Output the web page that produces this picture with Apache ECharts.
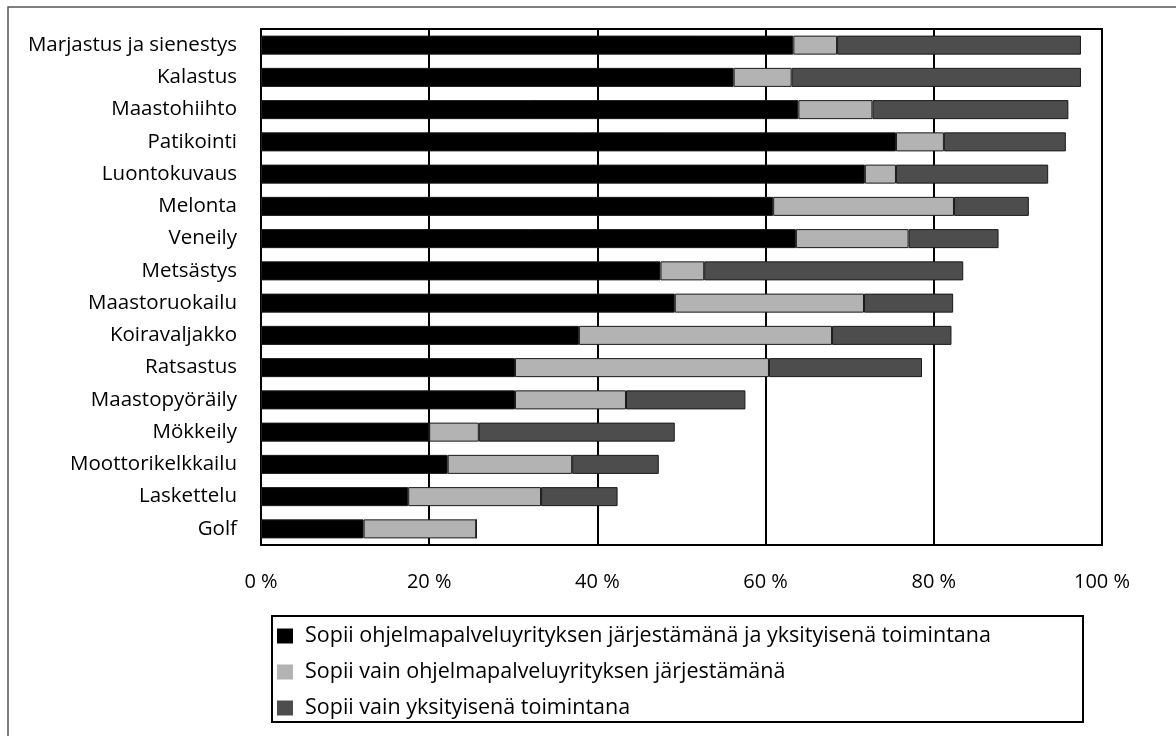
<!DOCTYPE html>
<html>
<head>
<meta charset="utf-8">
<script src="https://cdn.jsdelivr.net/npm/echarts@6/dist/echarts.min.js"></script>
<style>
html,body{margin:0;padding:0;background:#fff;}
#chart{width:1176px;height:736px;}
</style>
</head>
<body>
<div id="chart"></div>
<script>
const categories = [
  "Marjastus ja sienestys","Kalastus","Maastohiihto","Patikointi","Luontokuvaus",
  "Melonta","Veneily","Metsästys","Maastoruokailu","Koiravaljakko","Ratsastus",
  "Maastopyöräily","Mökkeily","Moottorikelkkailu","Laskettelu","Golf"
];
const seriesNames = [
  "Sopii ohjelmapalveluyrityksen järjestämänä ja yksityisenä toimintana",
  "Sopii vain ohjelmapalveluyrityksen järjestämänä",
  "Sopii vain yksityisenä toimintana"
];
const bothValues    = [63.3,56.2,63.9,75.5,71.8,60.9,63.6,47.5,49.2,37.8,30.2,30.2,20.0,22.2,17.5,12.2];
const companyValues = [5.2,6.9,8.8,5.7,3.7,21.5,13.4,5.2,22.5,30.1,30.2,13.2,5.9,14.8,15.8,13.4];
const privateValues = [29.0,34.4,23.3,14.5,18.1,8.9,10.7,30.8,10.6,14.2,18.2,14.2,23.3,10.3,9.1,0];
const tickValues = [0,20,40,60,80,100];

const FONT = "'Open Sans', 'Noto Sans', sans-serif";
const colors = ["#000000","#b3b3b3","#4d4d4d"];
const allValues = [bothValues, companyValues, privateValues];

const chart = echarts.init(document.getElementById('chart'));
chart.setOption({
  animation: false,
  backgroundColor: '#ffffff',
  textStyle: { fontFamily: FONT, color: '#000' },
  graphic: [
    { type: 'rect', shape: { x: 8, y: 7, width: 1300, height: 900 }, style: { fill: 'none', stroke: '#555', lineWidth: 1.5 }, z: -10 },
    { type: 'rect', shape: { x: 272, y: 616, width: 811, height: 106 }, style: { fill: 'none', stroke: '#000', lineWidth: 2 }, z: 10 }
  ],
  grid: {
    left: 261, right: 74, top: 29, bottom: 191,
    containLabel: false, outerBoundsMode: 'none',
    show: true, borderColor: '#000', borderWidth: 2, backgroundColor: 'transparent'
  },
  legend: {
    orient: 'vertical', left: 277, top: 625,
    itemWidth: 16, itemHeight: 15, itemGap: 14, icon: 'rect',
    padding: 0,
    textStyle: { fontFamily: FONT, fontSize: 21.5, lineHeight: 20, color: '#000', padding: [0,0,0,7] },
    data: seriesNames.map((n, i) => ({ name: n, itemStyle: { color: colors[i], borderWidth: 0 } }))
  },
  xAxis: {
    type: 'value', min: 0, max: 100, interval: 20,
    axisLine: { show: true, lineStyle: { color: '#000', width: 2 } },
    axisTick: { show: false },
    splitLine: { show: true, lineStyle: { color: '#000', width: 2 } },
    axisLabel: { fontFamily: FONT, fontSize: 20, color: '#000', margin: 27,
      formatter: v => tickValues.includes(v) ? v + ' %' : '' }
  },
  yAxis: {
    type: 'category', data: categories, inverse: true,
    axisLine: { show: true, lineStyle: { color: '#000', width: 2 } },
    axisTick: { show: false },
    axisLabel: { fontFamily: FONT, fontSize: 20.5, color: '#000', margin: 24, padding: [4,0,0,0] }
  },
  series: seriesNames.map((n, i) => ({
    name: n, type: 'bar', stack: 'total', barWidth: '59%',
    data: allValues[i],
    itemStyle: { color: colors[i], borderColor: '#1a1a1a', borderWidth: 1 }
  }))
});
</script>
</body>
</html>
